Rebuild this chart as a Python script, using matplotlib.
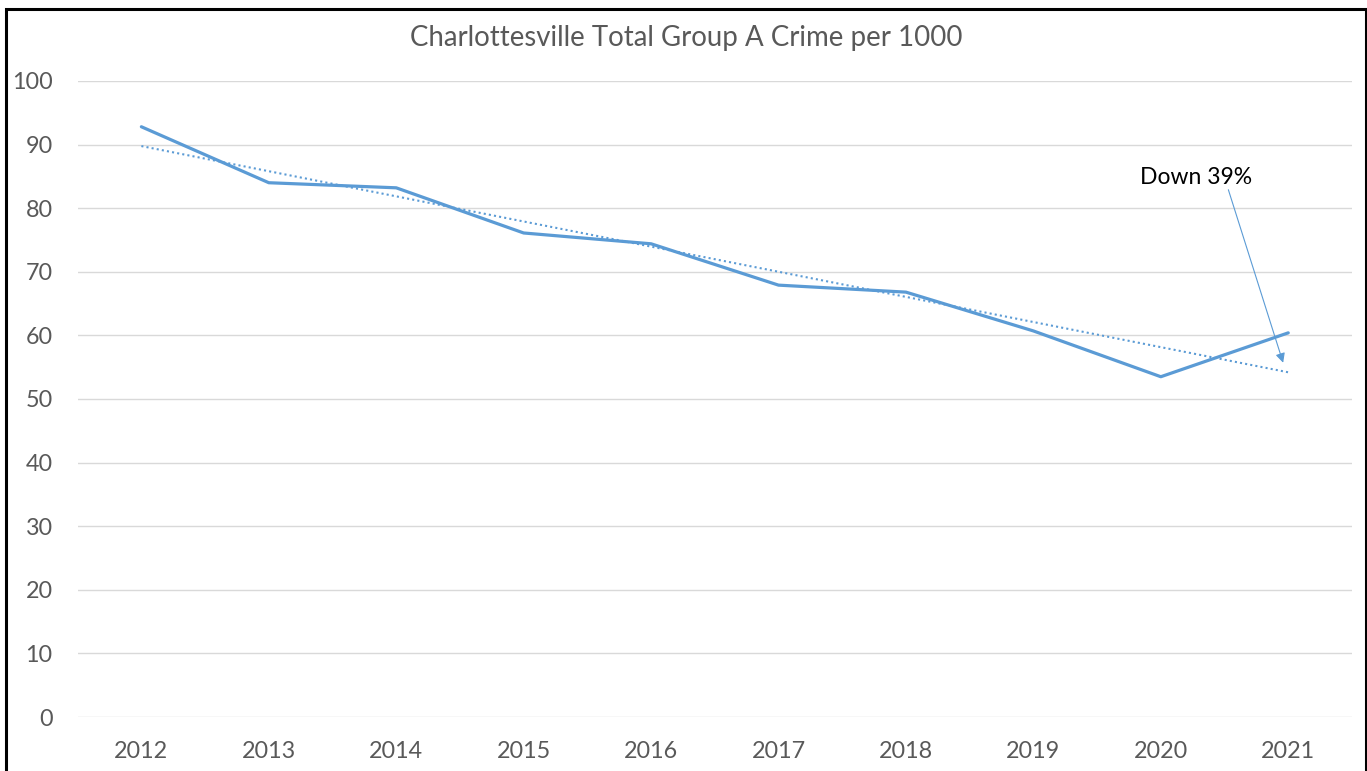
import numpy as np
import matplotlib as mpl
import matplotlib.pyplot as plt
from matplotlib.patches import Rectangle

#Datos
years = ['2012', '2013', '2014', '2015', '2016', '2017', '2018', '2019', '2020', '2021']
crime = [92.8, 84.0, 83.2, 76.1, 74.4, 67.9, 66.8, 60.7, 53.5, 60.4]
yticks = [0, 10, 20, 30, 40, 50, 60, 70, 80, 90, 100]
titulo = 'Charlottesville Total Group A Crime per 1000'
nota = 'Down 39%'

azul = '#5B9BD5'
gris = '#595959'

mpl.rcParams['font.family'] = ['Lato', 'DejaVu Sans']

x = np.arange(len(years))
coef = np.polyfit(x, crime, 1)
tend = np.polyval(coef, x)

fig = plt.figure(figsize=(13.67, 7.71), dpi=100)
ax = fig.add_axes((0.0568, 0.070, 0.989 - 0.0568, 0.825))

ax.plot(x, tend, color=azul, linewidth=1.5, linestyle=(0, (1, 1.5)), zorder=3)
ax.plot(x, crime, color=azul, linewidth=2.3, solid_capstyle='round', zorder=4)

ax.set_xlim(-0.5, len(years) - 0.5)
ax.set_ylim(0, 100)
ax.set_xticks(x)
ax.set_xticklabels(years)
ax.set_yticks(yticks)
ax.grid(axis='y', color='#D9D9D9', linewidth=1.0)
ax.set_axisbelow(True)
for s in ax.spines.values():
    s.set_visible(False)
ax.tick_params(axis='both', length=0, labelsize=16.8, labelcolor=gris)
ax.tick_params(axis='y', pad=18)
ax.tick_params(axis='x', pad=17)

fig.text(0.502, 0.951, titulo, ha='center', va='center', fontsize=19.9, color=gris)

ax.text(8.28, 84.9, nota, ha='center', va='center', fontsize=16.5, color='black')
ax.annotate('', xy=(8.96, 55.7), xytext=(8.53, 82.9),
            arrowprops=dict(arrowstyle='-|>', color=azul, linewidth=0.8,
                            shrinkA=0, shrinkB=0, mutation_scale=14))

#Marco
fig.add_artist(Rectangle((6 / 1367, -0.05), (1366 - 6) / 1367, 1.05 - 9 / 771,
                         transform=fig.transFigure, fill=False,
                         edgecolor='black', linewidth=2.2))

fig.savefig('out.png', dpi=100)
